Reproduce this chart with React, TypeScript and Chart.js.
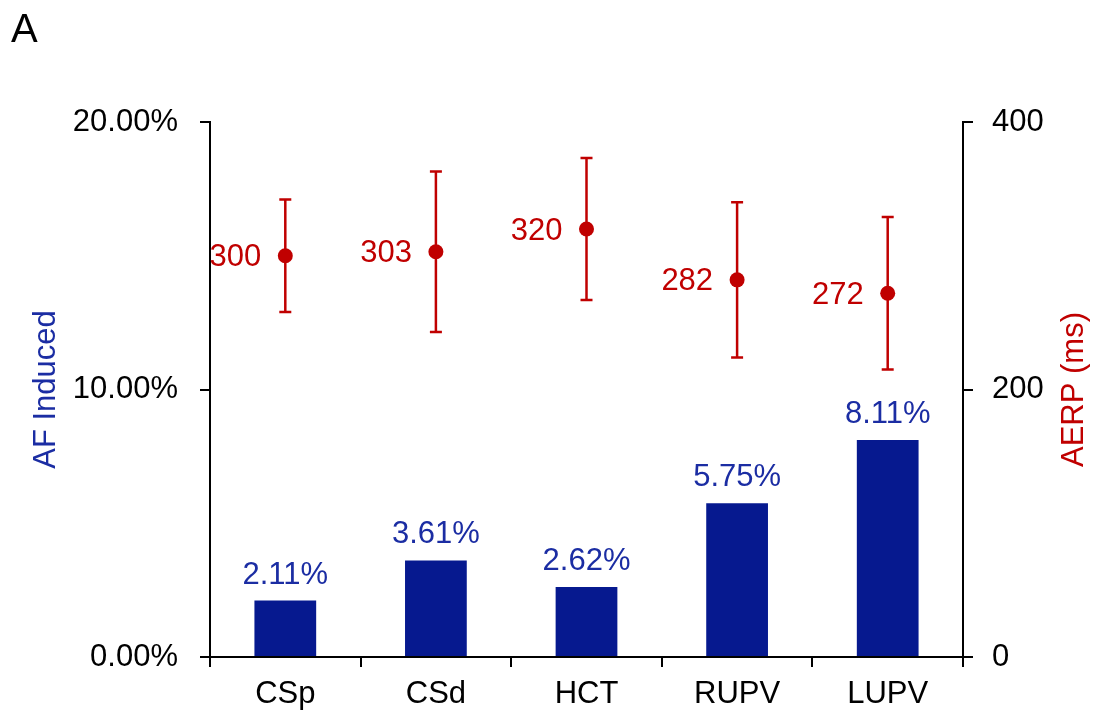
import React, { useEffect, useRef } from "react";
import { Chart, registerables } from "chart.js";

Chart.register(...registerables);

const categories = ["CSp", "CSd", "HCT", "RUPV", "LUPV"];
const afInduced = [2.11, 3.61, 2.62, 5.75, 8.11];
const aerpMean = [300, 303, 320, 282, 272];
const aerpErr = [42, 60, 53, 58, 57];
const leftTicks = [0, 10, 20];
const rightTicks = [0, 200, 400];

const FONT = "'Liberation Sans', Arial, Helvetica, sans-serif";
const FS = 31;
const BLUE_BAR = "#06198F";
const BLUE_TXT = "#1B2DA3";
const RED = "#C00000";

const decorPlugin = {
  id: "decor",
  beforeDatasetDraw(chart: any, args: any) {
    if (args.index !== 1) return;
    const ctx = chart.ctx;
    const y1 = chart.scales.y1;
    const meta = chart.getDatasetMeta(1);
    ctx.save();
    ctx.strokeStyle = RED;
    ctx.lineWidth = 2.5;
    meta.data.forEach((pt: any, i: number) => {
      const x = pt.x;
      const top = y1.getPixelForValue(aerpMean[i] + aerpErr[i]);
      const bot = y1.getPixelForValue(aerpMean[i] - aerpErr[i]);
      ctx.beginPath();
      ctx.moveTo(x, top);
      ctx.lineTo(x, bot);
      ctx.moveTo(x - 6, top);
      ctx.lineTo(x + 6, top);
      ctx.moveTo(x - 6, bot);
      ctx.lineTo(x + 6, bot);
      ctx.stroke();
    });
    ctx.restore();
  },
  afterDatasetsDraw(chart: any) {
    const ctx = chart.ctx;
    ctx.save();
    // bar value labels
    ctx.font = `${FS}px ${FONT}`;
    ctx.fillStyle = BLUE_TXT;
    ctx.textAlign = "center";
    ctx.textBaseline = "alphabetic";
    chart.getDatasetMeta(0).data.forEach((bar: any, i: number) => {
      ctx.fillText(afInduced[i].toFixed(2) + "%", bar.x, bar.y - 17);
    });
    // point value labels
    ctx.fillStyle = RED;
    ctx.textAlign = "right";
    ctx.textBaseline = "middle";
    chart.getDatasetMeta(1).data.forEach((pt: any, i: number) => {
      ctx.fillText(String(aerpMean[i]), pt.x - 24, pt.y + 2);
    });
    // panel letter
    ctx.fillStyle = "#000";
    ctx.textAlign = "left";
    ctx.textBaseline = "alphabetic";
    ctx.font = `40px ${FONT}`;
    ctx.fillText("A", 11, 42);
    // axis titles
    const midY = (chart.chartArea.top + chart.chartArea.bottom) / 2;
    ctx.font = `${FS}px ${FONT}`;
    ctx.textAlign = "center";
    ctx.textBaseline = "middle";
    ctx.save();
    ctx.translate(46, midY);
    ctx.rotate(-Math.PI / 2);
    ctx.fillStyle = BLUE_TXT;
    ctx.fillText("AF Induced", 0, 0);
    ctx.restore();
    ctx.save();
    ctx.translate(1074, midY);
    ctx.rotate(-Math.PI / 2);
    ctx.fillStyle = RED;
    ctx.fillText("AERP (ms)", 0, 0);
    ctx.restore();
    ctx.restore();
  },
};

export default function App() {
  const ref = useRef<HTMLCanvasElement>(null);
  useEffect(() => {
    if (!ref.current) return;
    const gridOpts = {
      display: true,
      drawOnChartArea: false,
      drawTicks: true,
      tickLength: 10,
      color: "#000",
      lineWidth: 2,
    };
    const chart = new Chart(ref.current, {
      type: "bar",
      data: {
        labels: categories,
        datasets: [
          {
            type: "bar",
            label: "AF Induced",
            data: afInduced,
            backgroundColor: BLUE_BAR,
            borderWidth: 0,
            yAxisID: "y",
            categoryPercentage: 1,
            barPercentage: 0.41,
            order: 2,
          } as any,
          {
            type: "line",
            label: "AERP (ms)",
            data: aerpMean,
            showLine: false,
            pointRadius: 7.5,
            pointBackgroundColor: RED,
            pointBorderColor: RED,
            pointBorderWidth: 0,
            borderColor: RED,
            yAxisID: "y1",
            order: 1,
          } as any,
        ],
      },
      options: {
        responsive: false,
        animation: false,
        events: [],
        layout: { padding: { top: 122, left: 0, right: 0, bottom: 0 } },
        plugins: {
          legend: { display: false },
          tooltip: { enabled: false },
          title: { display: false },
        },
        scales: {
          x: {
            type: "category",
            offset: true,
            grid: { ...gridOpts, offset: true },
            border: { display: true, color: "#000", width: 2 },
            ticks: {
              color: "#000",
              font: { family: FONT, size: FS },
              padding: 9,
              maxRotation: 0,
            },
            afterFit: (s: any) => {
              s.height = 54;
            },
          },
          y: {
            position: "left",
            min: 0,
            max: 20,
            afterBuildTicks: (s: any) => {
              s.ticks = leftTicks.map((v) => ({ value: v }));
            },
            ticks: {
              color: "#000",
              font: { family: FONT, size: FS },
              padding: 22,
              callback: (v: any) => Number(v).toFixed(2) + "%",
            },
            grid: gridOpts,
            border: { display: true, color: "#000", width: 2 },
            afterFit: (s: any) => {
              s.width = 210;
            },
          },
          y1: {
            position: "right",
            min: 0,
            max: 400,
            afterBuildTicks: (s: any) => {
              s.ticks = rightTicks.map((v) => ({ value: v }));
            },
            ticks: {
              color: "#000",
              font: { family: FONT, size: FS },
              padding: 19,
            },
            grid: gridOpts,
            border: { display: true, color: "#000", width: 2 },
            afterFit: (s: any) => {
              s.width = 135;
            },
          },
        },
      } as any,
      plugins: [decorPlugin],
    });
    return () => chart.destroy();
  }, []);
  return (
    <div style={{ position: "fixed", left: 0, top: 0, width: 1098, height: 711, background: "#fff" }}>
      <canvas ref={ref} width={1098} height={711} style={{ display: "block" }} />
    </div>
  );
}
